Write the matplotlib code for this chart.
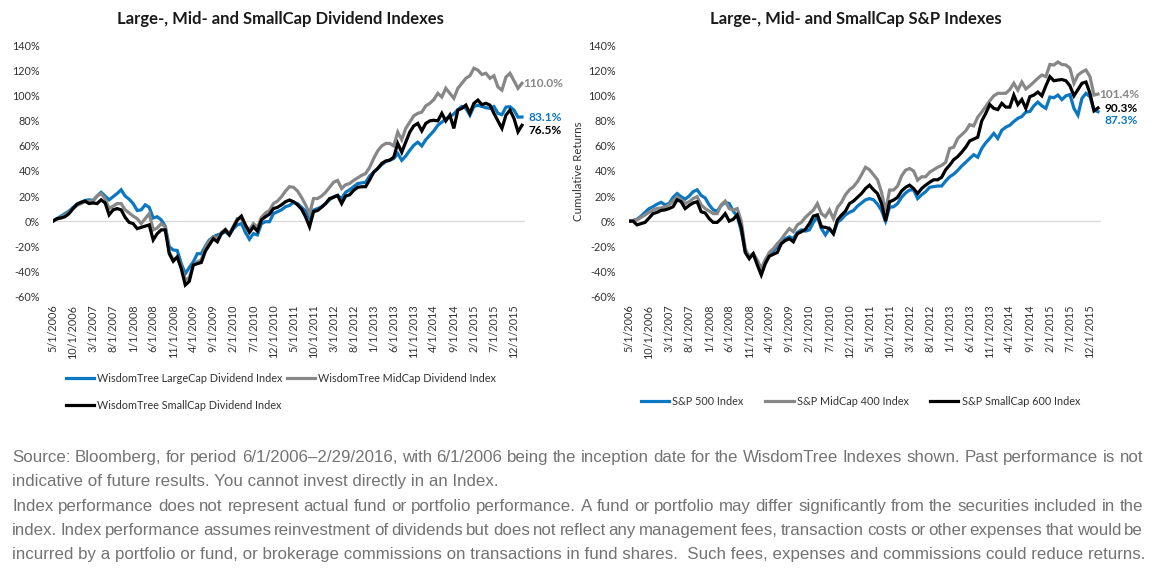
import matplotlib
matplotlib.use('Agg')
import matplotlib.pyplot as plt
from matplotlib.lines import Line2D
import pandas as pd

# ---------------- data ----------------
months = pd.date_range('2006-05-01', periods=118, freq='MS')
categories = [f"{d.month}/1/{d.year}" for d in months]
tick_step = 5

wt_large = [0, 2, 4, 6, 8, 11, 13.5, 15, 16.5, 17, 16.5, 20, 23, 20, 17, 19.5, 22, 25, 20, 17.5,
            14, 8.5, 9, 13, 11, 2.5, 3.5, 1, -4, -20.5, -23, -23.5, -34, -42, -37, -32.5, -26, -26, -20, -15,
            -12.5, -11, -10, -8.5, -11, -6, -3, -2, -9, -14.5, -10, -11, -2, -0.5, -0.5, 6, 7.5, 9, 11.5, 12.5,
            15, 14, 11, 8, 2.5, 8.8, 10, 11.5, 14, 17, 19.5, 20.5, 18, 23, 25, 27.5, 30, 30.5, 31, 36,
            39, 42, 45, 47.5, 48.5, 50, 54, 48.5, 52, 56.5, 60.5, 63, 60, 65, 68.5, 72, 76.5, 79, 81.5, 83.5,
            85.5, 89, 91.5, 90, 84.5, 91.5, 92.5, 91.5, 90.5, 90, 91.5, 86, 85, 91, 91.3, 88.6, 83, 83.1]
wt_mid = [0, 1.5, 3, 5, 7, 10, 12.5, 14, 15.5, 16, 16, 20, 22, 18, 10, 12, 14, 14, 9, 6.5,
          4, 2, -2, 2, 6, -7, -5.5, -2, -4.5, -24.5, -31, -29, -36, -47, -45, -35, -32.5, -31, -21, -16,
          -12.5, -14, -9, -6.5, -10, -4, 2, 2, -4, -7, -2, -5, 3, 6.5, 8.5, 14, 16, 19.5, 24, 27.5,
          27, 24, 19, 13, 6, 18, 18, 20, 23, 27, 31, 32.5, 26, 29, 30, 32.5, 34.5, 36.5, 38, 43,
          50, 56, 60, 62, 62, 60, 71, 65, 74, 79, 84, 86, 87, 92, 94, 97, 102, 99, 106, 102,
          98, 106, 110, 114, 116, 122, 120.5, 117, 118, 114, 116, 107, 104.5, 115, 118, 112, 106, 110.0]
wt_small = [0, 2, 2.5, 3.5, 6, 10, 13.5, 15, 16, 14, 14.5, 14, 17, 14.5, 5, 9, 10, 9, 3, -1,
            -2, -6, -5, -4, -3, -15, -10, -7, -7, -26, -32, -28.5, -38, -51, -48, -35, -34, -33, -24, -19,
            -14, -16.5, -10, -7, -11, -5, 1, 4, -3, -9, -4.5, -8, 1, 3.5, 5.5, 10, 11, 13, 15.5, 16.8,
            15.5, 13, 9.5, 3.5, -4.5, 7.5, 8.5, 11, 14, 18, 19, 20.5, 14, 20, 21, 24.5, 27, 27.4, 27.5, 33,
            39, 42, 46, 48, 48.7, 51, 62, 55, 63, 71, 76, 78, 72, 78, 80, 80.5, 80, 86, 80, 84.6,
            74, 88.6, 90, 92.6, 86, 94, 96.6, 93, 94, 92.6, 86, 80, 74, 84.6, 88.6, 82, 71.3, 76.5]

sp500 = [0, 0.5, 1.5, 4, 7, 10, 11.5, 13.5, 15, 13, 14, 19, 22, 19.5, 17.5, 20, 23.5, 25, 20.5, 18.5,
         13, 9, 8, 12.5, 15, 14, 8, 4, -8, -24, -28, -26, -33, -39, -31, -26, -24, -20.5, -17, -14,
         -12.5, -14, -9, -7, -8, -7, -1, 3.5, -6, -11, -6, -10, -1, 1.5, 5, 7, 8.5, 12, 14.5, 17,
         18, 17, 13.5, 8.5, 0, 11, 11.5, 14, 19, 22.5, 24.8, 25, 18, 21, 23.5, 27, 27.5, 28, 28, 32,
         35.4, 37.5, 40.5, 44, 47, 50, 53, 51, 58, 62.5, 66, 70, 66, 72.5, 75, 76.5, 79.5, 82, 83.5, 87,
         87.5, 92, 95, 92, 90, 99, 98.5, 100.6, 97, 100, 101, 90, 84.6, 98, 102, 99.3, 88.6, 87.3]
sp400 = [0, 0.5, 1, 3, 5, 7, 9, 10, 10.5, 11.4, 13, 16, 19.4, 17, 14, 15.5, 18, 19.5, 13, 10,
         8, 6, 6, 13, 16, 10, 8.8, 10, 0, -22, -28.5, -26, -31, -38, -31, -25, -22, -18, -14.5, -10,
         -6, -8.5, -3, -1, 3, 6, 8.8, 14, 6, 3.5, 8.8, 2, 11, 15, 21, 25, 27.5, 31.5, 37, 43,
         41, 37, 33, 23, 7.5, 24.8, 24.8, 28, 36, 40.7, 42, 40, 32.7, 35.4, 35.4, 39, 41, 43, 44.5, 47,
         58, 59, 66, 69, 72, 77, 76, 83, 87, 91.5, 96, 100, 102, 102, 102, 105, 110, 104.6, 111, 105.5,
         108, 111, 114, 116.6, 115.3, 125, 124.6, 127, 125, 124.6, 122, 110, 116.6, 119, 120.6, 115.3, 100.6, 101.4]
sp600 = [0, 0, -3, -2, -1, 2.5, 6, 7, 8.5, 9, 10, 11.5, 17, 15.5, 10, 12.5, 14.5, 15.5, 7.5, 6.5,
         2, -1, -1, 2, 6, 0, 1.5, 5, -5, -25, -30, -26, -35, -43, -34, -28, -26.5, -25, -18, -15.5,
         -14, -16.5, -10, -8.5, -6.5, -2, 4, 5, -4.5, -5, -6, -10, 1, 4.8, 8, 14, 16, 19, 22, 26,
         28.7, 25, 22, 14, 0, 15.4, 16.8, 19, 24, 27, 28.7, 26, 22, 26, 28.7, 31, 33, 33, 35, 41,
         44.7, 49, 51.5, 55, 59, 64, 65.5, 67, 80, 86, 93, 90, 89, 94, 91, 91, 100.6, 93, 97, 90,
         99.3, 100.6, 103, 100, 108, 115.3, 112, 112.6, 113, 112, 108, 100, 105, 110, 111, 102, 88, 90.3]

left_names = ['WisdomTree LargeCap Dividend Index', 'WisdomTree MidCap Dividend Index',
              'WisdomTree SmallCap Dividend Index']
right_names = ['S&P 500 Index', 'S&P MidCap 400 Index', 'S&P SmallCap 600 Index']
left_final = ['83.1%', '110.0%', '76.5%']
right_final = ['87.3%', '101.4%', '90.3%']

BLUE, GREY, BLACK = '#0A77C2', '#878787', '#000000'
colors = [BLUE, GREY, BLACK]

W, H = 1155, 582
plt.rcParams['font.family'] = ['Lato', 'DejaVu Sans']
fig = plt.figure(figsize=(W / 100, H / 100), dpi=100)

TOP, BOT = 45.7, 296.3


def make_axes(x0, x1):
    return fig.add_axes([x0 / W, 1 - BOT / H, (x1 - x0) / W, (BOT - TOP) / H])


def style(ax):
    ax.set_xlim(0, 117.75)
    ax.set_ylim(-60, 140)
    for s in ax.spines.values():
        s.set_visible(False)
    ax.axhline(0, color='#d9d9d9', lw=0.9, zorder=0)
    ax.set_yticks(range(-60, 141, 20))
    ax.set_yticklabels([f"{v}%" for v in range(-60, 141, 20)])
    ticks = list(range(0, len(categories), tick_step))
    ax.set_xticks(ticks)
    ax.set_xticklabels([categories[i] for i in ticks], rotation=90, va='top', ha='center')
    ax.tick_params(axis='y', length=0, pad=9.4, labelsize=7.8, labelcolor='#333333')
    ax.tick_params(axis='x', length=0, pad=6, labelsize=7.8, labelcolor='#333333')


x = list(range(len(categories)))

axL = make_axes(53, 525)
style(axL)
for ser, c in zip([wt_large, wt_mid, wt_small], colors):
    axL.plot(x, ser, color=c, lw=2.3, solid_joinstyle='miter')
axL.set_title('Large-, Mid- and SmallCap Dividend Indexes', fontsize=12, fontweight='bold',
              color='#1a1a1a', pad=15.6, x=(280 - 53) / 472)

axR = make_axes(629, 1101)
style(axR)
for ser, c in zip([sp500, sp400, sp600], colors):
    axR.plot(x, ser, color=c, lw=2.3, solid_joinstyle='miter')
axR.set_title('Large-, Mid- and SmallCap S&P Indexes', fontsize=12, fontweight='bold',
              color='#1a1a1a', pad=15.6, x=(856 - 629) / 472)
axR.set_ylabel('Cumulative Returns', fontsize=8.3, color='#333333', labelpad=3)

# end-value labels (offsets in pixels -> points)
last = len(categories) - 1
left_offsets = [(7, -1), (1, 0), (7, -5)]
for ser, lab, c, off in zip([wt_large, wt_mid, wt_small], left_final, colors, left_offsets):
    axL.annotate(lab, xy=(last, ser[-1]), xytext=(off[0] * 0.72, off[1] * 0.72),
                 textcoords='offset points', ha='left', va='center', fontsize=8.6,
                 fontweight='bold', color=c)
right_offsets = [(7, -9), (1, 0), (7, -1)]
for ser, lab, c, off in zip([sp500, sp400, sp600], right_final, colors, right_offsets):
    axR.annotate(lab, xy=(last, ser[-1]), xytext=(off[0] * 0.72, off[1] * 0.72),
                 textcoords='offset points', ha='left', va='center', fontsize=8.6,
                 fontweight='bold', color=c)

# legends
def handle(c):
    return Line2D([], [], color=c, lw=2.3)

hl = [handle(BLUE), handle(BLACK), handle(GREY)]
nl = [left_names[0], left_names[2], left_names[1]]
fig.legend(hl, nl, loc='upper left', bbox_to_anchor=(66 / W, 1 - 373 / H), ncol=2,
           frameon=False, fontsize=7.8, handlelength=2.6, handletextpad=0.3,
           columnspacing=0.35, labelspacing=1.45, borderaxespad=0, borderpad=0,
           labelcolor='#333333')
fig.legend([handle(c) for c in colors], right_names, loc='upper left',
           bbox_to_anchor=(641 / W, 1 - 396 / H), ncol=3, frameon=False, fontsize=7.8,
           handlelength=2.6, handletextpad=0.3, columnspacing=2.0, borderaxespad=0,
           borderpad=0, labelcolor='#333333')

# footnote with justified lines (y = baseline in pixels from top)
foot = [
    ("Source: Bloomberg, for period 6/1/2006\u20132/29/2016, with 6/1/2006 being the inception date for the WisdomTree Indexes shown. Past performance is not", True, 462),
    ("indicative of future results. You cannot invest directly in an Index.", False, 486),
    ("Index performance does not represent actual fund or portfolio performance.  A fund or portfolio may differ significantly from the securities included in the", True, 511),
    ("index.  Index performance assumes reinvestment of dividends but does not reflect any management fees, transaction costs or other expenses that would be", True, 535),
    ("incurred by a portfolio or fund, or brokerage commissions on transactions in fund shares.  Such fees, expenses and commissions could reduce returns.", False, 559),
]
FX0, FX1 = 12, 1143
fkw = dict(fontsize=12.2, color='#737373', family=['Liberation Sans', 'DejaVu Sans'],
           va='baseline', ha='left')
renderer = fig.canvas.get_renderer()
for text, just, yy in foot:
    if not just:
        fig.text(FX0 / W, 1 - yy / H, text, **fkw)
        continue
    words = text.split()
    objs = [fig.text(0, 1 - yy / H, w, **fkw) for w in words]
    widths = [o.get_window_extent(renderer).width for o in objs]
    gap = (FX1 - FX0 - sum(widths)) / (len(words) - 1)
    pos = FX0
    for o, wdt in zip(objs, widths):
        o.set_x(pos / W)
        pos += wdt + gap

fig.savefig('out.png', dpi=100)
